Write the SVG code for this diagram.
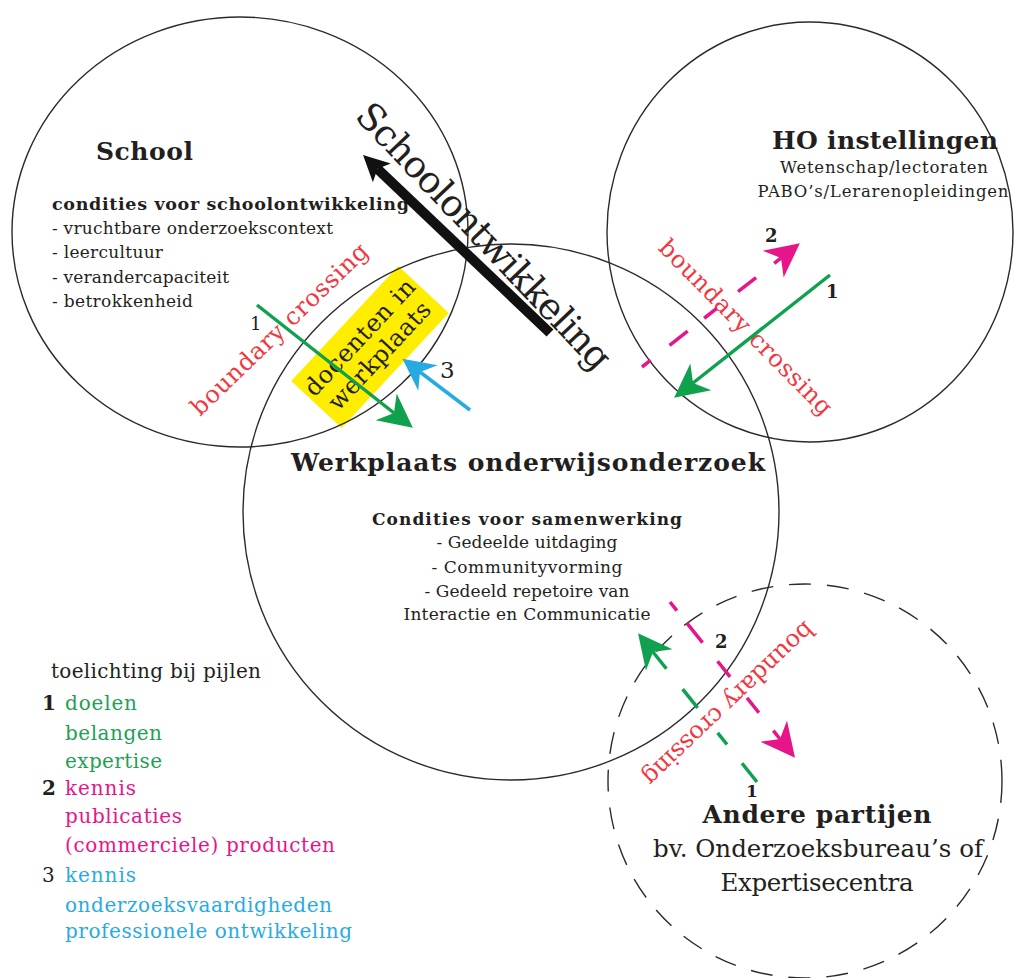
<svg xmlns="http://www.w3.org/2000/svg" width="1014" height="978" viewBox="0 0 1014 978">
<style>
text{font-family:"DejaVu Serif","Liberation Serif",serif;fill:#231f20}
.b{font-weight:bold}
.ring{fill:none;stroke:#2b2b2b;stroke-width:1.4}
.bc{fill:#f2373f;font-size:24px}
.g{fill:#1fa055}.p{fill:#e6168a}.c{fill:#2aaae3}
.gl{stroke:#0fa14e;stroke-width:3.5;fill:none}
.pl{stroke:#e6168a;stroke-width:3.5;fill:none}
.cl{stroke:#27aae1;stroke-width:3.5;fill:none}
.lg{font-size:20px}
</style>
<defs>
<marker id="hg" markerUnits="userSpaceOnUse" orient="auto" overflow="visible" markerWidth="1" markerHeight="1"><path d="M24,0 L-10,-17 L0,0 L-10,17 Z" fill="#0fa14e"/></marker>
<marker id="hp" markerUnits="userSpaceOnUse" orient="auto" overflow="visible" markerWidth="1" markerHeight="1"><path d="M24,0 L-10,-17 L0,0 L-10,17 Z" fill="#e6168a"/></marker>
<marker id="hc" markerUnits="userSpaceOnUse" orient="auto" overflow="visible" markerWidth="1" markerHeight="1"><path d="M22,0 L-10,-16 L0,0 L-10,16 Z" fill="#27aae1"/></marker>
<marker id="hk" markerUnits="userSpaceOnUse" orient="auto" overflow="visible" markerWidth="1" markerHeight="1"><path d="M20,0 L-6,-13 L0,0 L-6,13 Z" fill="#111"/></marker>
</defs>
<rect width="1014" height="978" fill="#fff"/>

<g id="docenten" transform="translate(370,347) rotate(-47)">
<rect x="-78.5" y="-34.5" width="157" height="69" fill="#ffed00"/>
<text x="0" y="-6" font-size="24" text-anchor="middle" textLength="150">docenten in</text>
<text x="0" y="21" font-size="24" text-anchor="middle" textLength="138">werkplaats</text>
</g>

<g id="school">
<ellipse class="ring" cx="240" cy="232" rx="228" ry="215"/>
<text class="b" x="96" y="160" font-size="25" textLength="97">School</text>
<text class="b" x="52" y="210" font-size="17.5" textLength="357">condities voor schoolontwikkeling</text>
<text x="52" y="234" font-size="17" textLength="281">- vruchtbare onderzoekscontext</text>
<text x="52" y="258" font-size="17" textLength="111">- leercultuur</text>
<text x="52" y="283" font-size="17" textLength="177">- verandercapaciteit</text>
<text x="52" y="307" font-size="17" textLength="141">- betrokkenheid</text>
</g>

<g id="ho">
<ellipse class="ring" cx="810" cy="232" rx="203" ry="210"/>
<text class="b" x="885" y="149" font-size="25" text-anchor="middle" textLength="226">HO instellingen</text>
<text x="884" y="173" font-size="16.5" text-anchor="middle" textLength="208">Wetenschap/lectoraten</text>
<text x="883" y="197" font-size="16.5" text-anchor="middle" textLength="251">PABO’s/Lerarenopleidingen</text>
</g>

<g id="werkplaats">
<circle class="ring" cx="511" cy="512" r="268"/>
<text class="b" x="528" y="471" font-size="25" text-anchor="middle" textLength="474">Werkplaats onderwijsonderzoek</text>
<text class="b" x="527" y="525" font-size="17" text-anchor="middle" textLength="310">Condities voor samenwerking</text>
<text x="527" y="548" font-size="17" text-anchor="middle" textLength="181">- Gedeelde uitdaging</text>
<text x="527" y="573" font-size="17" text-anchor="middle" textLength="191">- Communityvorming</text>
<text x="527" y="597" font-size="17" text-anchor="middle" textLength="205">- Gedeeld repetoire van</text>
<text x="527" y="620" font-size="17" text-anchor="middle" textLength="247">Interactie en Communicatie</text>
</g>

<g id="andere">
<circle class="ring" cx="805" cy="781" r="197" stroke-dasharray="22 16"/>
<text class="b" x="817" y="823" font-size="25" text-anchor="middle" textLength="229">Andere partijen</text>
<text x="818" y="857" font-size="24.5" text-anchor="middle" textLength="330">bv. Onderzoeksbureau’s of</text>
<text x="817" y="891" font-size="24.5" text-anchor="middle" textLength="193">Expertisecentra</text>
</g>

<g id="labels">
<text x="475" y="245" font-size="37" fill="#111" text-anchor="middle" textLength="352" transform="rotate(46.5 475 245)">Schoolontwikkeling</text>
<text class="bc" x="285" y="335" text-anchor="middle" textLength="236" transform="rotate(-44 285 335)">boundary crossing</text>
<text class="bc" x="740" y="333" text-anchor="middle" textLength="236" transform="rotate(45.4 740 333)">boundary crossing</text>
<text class="bc" x="723" y="698" text-anchor="middle" textLength="226" transform="rotate(136.5 723 698)">boundary crossing</text>
<text x="250" y="330" font-size="18">1</text>
<text x="440" y="378" font-size="23">3</text>
<text class="b" x="765" y="242" font-size="18">2</text>
<text class="b" x="826" y="298" font-size="18">1</text>
<text class="b" x="715" y="648" font-size="18">2</text>
<text class="b" x="746" y="797" font-size="17">1</text>
</g>

<g id="connectors">
<line x1="550" y1="333" x2="377.5" y2="168.8" stroke="#111" stroke-width="10" marker-end="url(#hk)"/>
<line class="gl" x1="257" y1="305" x2="394" y2="413" marker-end="url(#hg)"/>
<line class="cl" x1="470" y1="410" x2="420" y2="372" marker-end="url(#hc)"/>
<line class="gl" x1="830" y1="275" x2="693" y2="383" marker-end="url(#hg)"/>
<line class="pl" x1="642" y1="367" x2="781" y2="258" stroke-dasharray="11 24 23 21 16 27 23 23 12 20" marker-end="url(#hp)"/>
<line class="gl" x1="757" y1="782" x2="653" y2="652" stroke-dasharray="24 24 15 32 24 26 22" marker-end="url(#hg)"/>
<line class="pl" x1="670" y1="602" x2="780" y2="739" stroke-dasharray="11 16 25 24 20 27 19 23 12" marker-end="url(#hp)"/>
</g>

<g id="legend">
<text class="lg" x="51" y="678" textLength="210">toelichting bij pijlen</text>
<text class="lg b" x="42" y="710">1</text>
<text class="lg g" x="65" y="710" textLength="72">doelen</text>
<text class="lg g" x="65" y="740" textLength="97">belangen</text>
<text class="lg g" x="65" y="768" textLength="97">expertise</text>
<text class="lg b" x="42" y="795">2</text>
<text class="lg p" x="65" y="795" textLength="71">kennis</text>
<text class="lg p" x="65" y="823" textLength="117">publicaties</text>
<text class="lg p" x="65" y="852" textLength="270">(commerciele) producten</text>
<text class="lg" x="42" y="882">3</text>
<text class="lg c" x="65" y="882" textLength="71">kennis</text>
<text class="lg c" x="65" y="912" textLength="267">onderzoeksvaardigheden</text>
<text class="lg c" x="65" y="938" textLength="287">professionele ontwikkeling</text>
</g>
</svg>
